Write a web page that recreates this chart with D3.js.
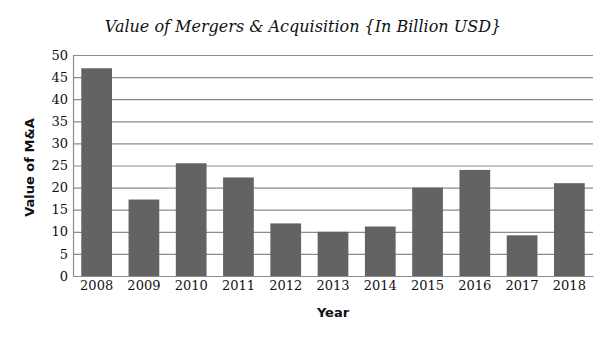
<!DOCTYPE html>
<html>
<head>
<meta charset="utf-8">
<script src="https://cdn.jsdelivr.net/npm/d3@7"></script>
<style>
  html, body { margin: 0; padding: 0; background: #fff; }
  svg { display: block; }
</style>
</head>
<body>
<svg id="chart" width="605" height="340"></svg>
<script>
// M&A deal value per year, billions of USD
const years = ["2008", "2009", "2010", "2011", "2012", "2013", "2014", "2015", "2016", "2017", "2018"];
const values = [47, 17.3, 25.5, 22.3, 11.9, 10, 11.2, 20, 24, 9.2, 21];
const yTicks = [0, 5, 10, 15, 20, 25, 30, 35, 40, 45, 50];

const svg = d3.select("#chart");
const margin = { top: 55, right: 12, bottom: 64, left: 73 };
const W = 605, H = 340;
const innerW = W - margin.left - margin.right;
const innerH = H - margin.top - margin.bottom;

const g = svg.append("g").attr("transform", `translate(${margin.left},${margin.top})`);

const x = d3.scaleBand().domain(years).range([0, innerW]).paddingInner(0.35).paddingOuter(0.175);
const y = d3.scaleLinear().domain([0, 50]).range([innerH, 0]);

// horizontal gridlines
g.append("g")
  .selectAll("line")
  .data(yTicks.filter(d => d > 0))
  .join("line")
  .attr("x1", 0).attr("x2", innerW)
  .attr("y1", d => y(d) + 0.5).attr("y2", d => y(d) + 0.5)
  .attr("stroke", "#8c8c8c").attr("stroke-width", 1.2);

// bars
g.append("g")
  .selectAll("rect")
  .data(years.map((yr, i) => ({ yr, v: values[i] })))
  .join("rect")
  .attr("x", d => x(d.yr))
  .attr("width", x.bandwidth())
  .attr("y", d => y(d.v))
  .attr("height", d => y(0) - y(d.v))
  .attr("fill", "#636363");

// y axis
const yAxis = g.append("g")
  .call(d3.axisLeft(y).tickValues(yTicks).tickSize(0).tickPadding(5));
yAxis.select(".domain").attr("stroke", "#8c8c8c").attr("stroke-width", 1.2);
yAxis.selectAll("text")
  .attr("font-family", "DejaVu Serif, serif")
  .attr("font-size", 13)
  .attr("fill", "#111");

// x axis
const xAxis = g.append("g")
  .attr("transform", `translate(0,${innerH})`)
  .call(d3.axisBottom(x).tickSize(0).tickPadding(5));
xAxis.select(".domain").attr("stroke", "#8c8c8c").attr("stroke-width", 1.2);
xAxis.selectAll("text")
  .attr("font-family", "DejaVu Serif, serif")
  .attr("font-size", 13)
  .attr("fill", "#111");

// title
svg.append("text")
  .attr("x", 303).attr("y", 32)
  .attr("text-anchor", "middle")
  .attr("font-family", "DejaVu Serif, serif")
  .attr("font-style", "italic")
  .attr("font-size", 16)
  .attr("fill", "#111")
  .text("Value of Mergers & Acquisition {In Billion USD}");

// axis titles
svg.append("text")
  .attr("x", margin.left + innerW / 2).attr("y", 317)
  .attr("text-anchor", "middle")
  .attr("font-family", "DejaVu Sans, sans-serif")
  .attr("font-weight", "bold")
  .attr("font-size", 13)
  .attr("fill", "#111")
  .text("Year");

svg.append("text")
  .attr("transform", `translate(34,${margin.top + innerH / 2 + 2}) rotate(-90)`)
  .attr("text-anchor", "middle")
  .attr("font-family", "DejaVu Sans, sans-serif")
  .attr("font-weight", "bold")
  .attr("font-size", 13)
  .attr("fill", "#111")
  .text("Value of M&A");
</script>
</body>
</html>
